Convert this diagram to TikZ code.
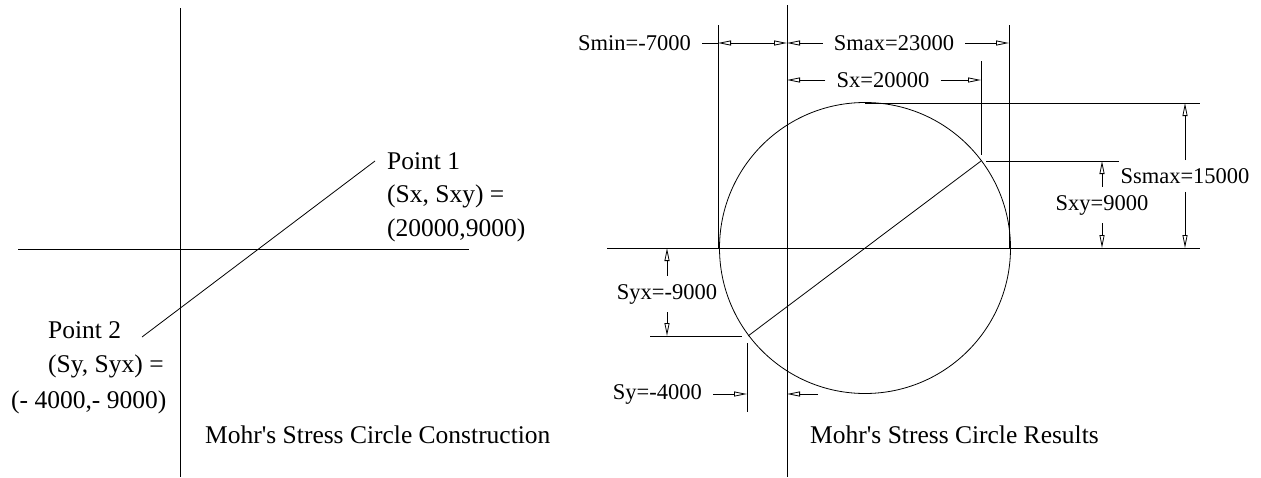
\documentclass[tikz,border=0pt]{standalone}
\usepackage{fontspec}
\setmainfont{Liberation Serif}
\usepackage{tikz}
\usetikzlibrary{arrows.meta}

\begin{document}
\begin{tikzpicture}[
    x=1pt, y=-1pt,
    lbl/.style={font=\fontsize{25.5}{30}\selectfont, inner sep=0pt},
    dimlbl/.style={font=\fontsize{22.5}{27}\selectfont, inner xsep=11pt, inner ysep=8pt},
    ax/.style={line width=0.8pt},
    dim/.style={ax, -{Triangle[open, length=13pt, width=5pt]}},
    dimboth/.style={ax, {Triangle[open, length=13pt, width=5pt]}-{Triangle[open, length=13pt, width=5pt]}}
]
    \useasboundingbox (0,0) rectangle (1261,477);

    % Construction (left)
    \coordinate (ltop) at (180,8);
    \coordinate (lbot) at (180,477);
    \coordinate (lleft) at (18,249);
    \coordinate (lright) at (469,249);
    \coordinate (pone) at (375,161);
    \coordinate (ptwo) at (142,337);
    \draw[ax] (ltop) -- (lbot);
    \draw[ax] (lleft) -- (lright);
    \draw[ax] (ptwo) -- (pone);

    \node[lbl, anchor=base west] (pointa) at (387,169) {Point 1};
    \node[lbl, anchor=base west] (pointb) at (387,202) {(Sx, Sxy) =};
    \node[lbl, anchor=base west] (pointc) at (387,236) {(20000,9000)};
    \node[lbl, anchor=base west] (pointd) at (48,338) {Point 2};
    \node[lbl, anchor=base west] (pointe) at (48,372) {(Sy, Syx) =};
    \node[lbl, anchor=base west] (pointf) at (11,408) {(- 4000,- 9000)};
    \node[lbl, anchor=base west] (construct) at (205,443) {Mohr\textquotesingle s Stress Circle Construction};

    % Results (right)
    \coordinate (rtop) at (787,5);
    \coordinate (rbot) at (787,477);
    \coordinate (rleft) at (607,248);
    \coordinate (rright) at (1200,248);
    \coordinate (center) at (865,248);
    \coordinate (sxpt) at (981,161);
    \coordinate (sypt) at (748,336);
    \draw[ax] (rtop) -- (rbot);
    \draw[ax] (rleft) -- (rright);
    \draw[ax] (center) circle[radius=145.5pt];
    \draw[ax] (sypt) -- (sxpt);

    % Extension lines
    \draw[ax] (718,25) -- (718,248);
    \draw[ax] (1009,25) -- (1009,248);
    \draw[ax] (981,61) -- (981,155);
    \draw[ax] (986,161) -- (1119,161);
    \draw[ax] (865,103) -- (1200,103);
    \draw[ax] (650,336) -- (742,336);
    \draw[ax] (747,343) -- (747,412);

    % Dimension labels
    \node[dimlbl, anchor=east] (smin) at (702,43) {Smin=-7000};
    \node[dimlbl] (smax) at (894,43) {Smax=23000};
    \node[dimlbl] (sx) at (883,80) {Sx=20000};
    \node[dimlbl] (sxy) at (1102,205) {Sxy=9000};
    \node[dimlbl] (ssmax) at (1185,176) {Ssmax=15000};
    \node[dimlbl] (syx) at (667,294) {Syx=-9000};
    \node[dimlbl, anchor=east] (sy) at (713,394) {Sy=-4000};
    \node[lbl, anchor=base west] (results) at (810,443) {Mohr\textquotesingle s Stress Circle Results};

    % Dimension arrows
    \coordinate (minend) at (718,43);
    \coordinate (orow1) at (787,43);
    \coordinate (orow2) at (787,80);
    \coordinate (orow3) at (787,394);
    \coordinate (syfree) at (818,394);
    \draw[ax] (smin.east) -- (minend);
    \draw[dimboth] (minend) -- (orow1);
    \draw[dim] (smax.west) -- (orow1);
    \draw[dim] (smax.east) -- (1009,43);
    \draw[dim] (sx.west) -- (orow2);
    \draw[dim] (sx.east) -- (981,80);
    \draw[dim] (sxy.north) -- (1102,161);
    \draw[dim] (sxy.south) -- (1102,248);
    \draw[dim] (ssmax.north) -- (1185,103);
    \draw[dim] (ssmax.south) -- (1185,248);
    \draw[dim] (syx.north) -- (667,248);
    \draw[dim] (syx.south) -- (667,336);
    \draw[dim] (sy.east) -- (747,394);
    \draw[dim] (syfree) -- (orow3);

\end{tikzpicture}
\end{document}
